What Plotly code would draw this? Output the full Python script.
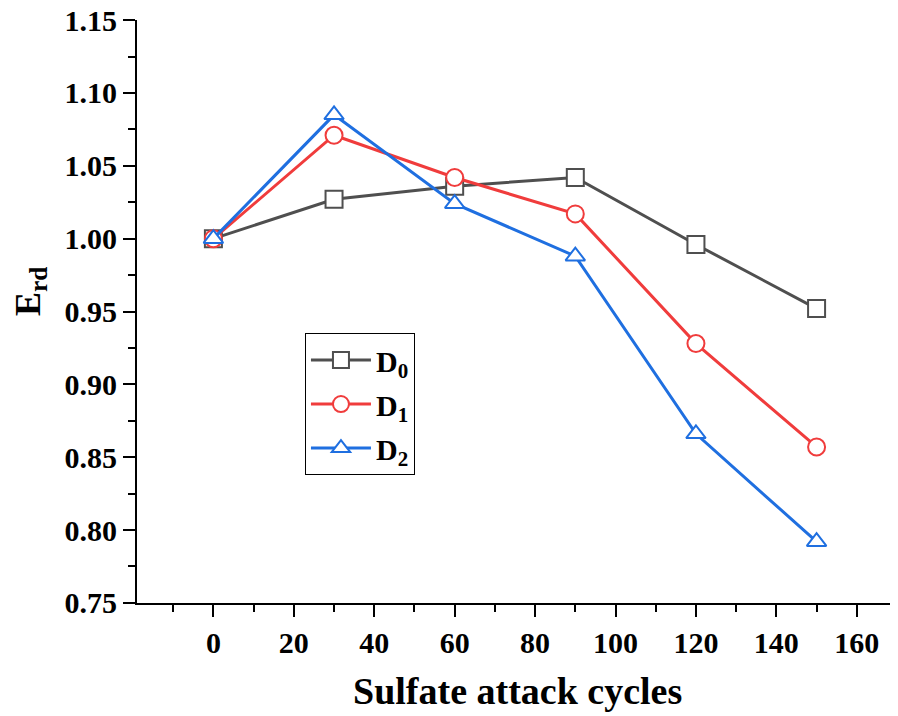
import plotly.graph_objects as go

cycles = [0, 30, 60, 90, 120, 150]
d0 = [1.000, 1.027, 1.036, 1.042, 0.996, 0.952]
d1 = [1.000, 1.071, 1.042, 1.017, 0.928, 0.857]
d2 = [1.000, 1.085, 1.024, 0.988, 0.866, 0.792]
names = ["D<sub>0</sub>", "D<sub>1</sub>", "D<sub>2</sub>"]
colors = ["#4f4f4f", "#f03c3c", "#1f6fe0"]
symbols = ["square", "circle", "triangle-up"]

FONT = "Liberation Serif"
fig = go.Figure()
for i, (ys, nm, c, s) in enumerate(zip([d0, d1, d2], names, colors, symbols)):
    fig.add_trace(go.Scatter(
        x=cycles, y=ys, name=nm, mode="lines+markers", legendgroup=f"g{i}",
        line=dict(color=c, width=3),
        marker=dict(symbol=s, size=17, color="white",
                    line=dict(color=c, width=2)),
    ))

# page body has an 8px margin, compensate in figure size/margins
W, H = 890, 708
L, T = 129, 11.5
PW, PH = 760, 584
fig.update_layout(
    width=W, height=H,
    margin=dict(l=L, r=W - L - PW, t=T, b=H - T - PH, autoexpand=False),
    plot_bgcolor="white", paper_bgcolor="white",
    font=dict(family=FONT, size=30, color="black", weight="bold"),
    showlegend=True,
    legend=dict(x=0.221, y=0.463, xanchor="left", yanchor="top",
                bordercolor="black", borderwidth=1, bgcolor="white",
                font=dict(family=FONT, size=30, weight="bold"),
                itemwidth=60, tracegroupgap=2),
    xaxis=dict(
        range=[-19, 170], tick0=0, dtick=20, showgrid=False, zeroline=False,
        automargin=False, ticklabeloverflow="allow",
        showline=True, linecolor="black", linewidth=2,
        ticks="outside", ticklen=12, tickwidth=2, tickcolor="black",
        minor=dict(dtick=10, ticks="outside", ticklen=7, tickwidth=2, tickcolor="black"),
        tickfont=dict(family=FONT, size=30, weight="bold"),
    ),
    yaxis=dict(
        range=[0.7499, 1.1501], tick0=0.75, dtick=0.05, tickformat=".2f",
        showgrid=False, zeroline=False, automargin=False, ticklabeloverflow="allow",
        showline=True, linecolor="black", linewidth=2,
        ticks="outside", ticklen=12, tickwidth=2, tickcolor="black",
        minor=dict(dtick=0.025, ticks="outside", ticklen=7, tickwidth=2, tickcolor="black"),
        tickfont=dict(family=FONT, size=30, weight="bold"),
    ),
    annotations=[
        dict(text="Sulfate attack cycles", xref="paper", yref="paper",
             x=0.5, y=-0.1515, xanchor="center", yanchor="middle",
             showarrow=False, font=dict(family=FONT, size=38, weight="bold")),
        dict(text="E<sub>rd</sub>", xref="paper", yref="paper", textangle=-90,
             x=-0.141, y=0.535, xanchor="center", yanchor="middle",
             showarrow=False, font=dict(family=FONT, size=36, weight="bold")),
    ],
)
fig.write_html("out.html")
